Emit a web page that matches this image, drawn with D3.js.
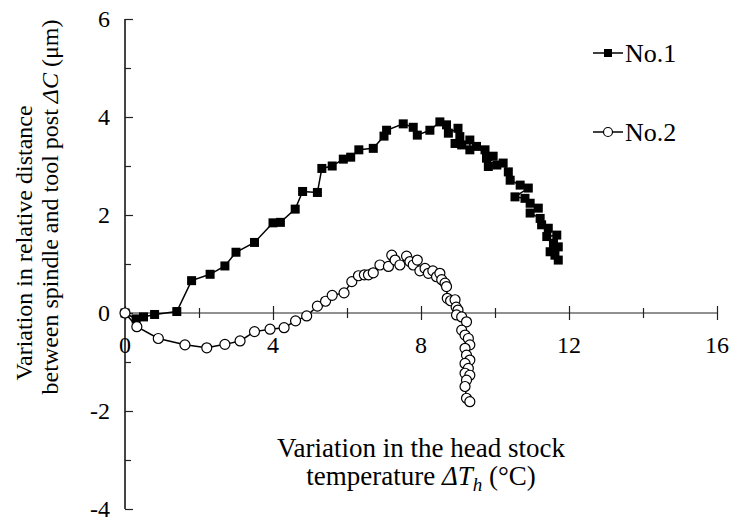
<!DOCTYPE html>
<html>
<head>
<meta charset="utf-8">
<script src="https://cdn.jsdelivr.net/npm/d3@7"></script>
<style>
	body { margin: 0; background: #fff; }
	svg text { fill: #000; }
</style>
</head>
<body>
<div id="chart"></div>
<script>
// series No.1 (filled squares)
var no1_x = [0, 0.3, 0.5, 0.8, 1.4, 1.8, 2.3, 2.7, 3.0, 3.5, 4.0, 4.2, 4.6, 4.8, 5.2, 5.32, 5.6, 5.9, 6.1, 6.32,
	6.71, 7.0, 7.07, 7.52, 7.79, 7.9, 8.24, 8.51, 8.69, 8.74, 9.0, 9.05, 8.92, 9.1, 9.32, 9.32, 9.5, 9.73, 9.77, 9.95,
	9.82, 10.05, 10.22, 10.36, 10.41, 10.68, 10.9, 10.54, 10.81, 10.95, 11.17, 10.95, 11.22, 11.26, 11.44, 11.4, 11.67,
	11.58, 11.71, 11.49, 11.62, 11.71];
var no1_y = [0, -0.12, -0.08, -0.03, 0.03, 0.66, 0.79, 0.96, 1.24, 1.44, 1.84, 1.85, 2.12, 2.48, 2.46, 2.95, 3.0, 3.14, 3.18, 3.33,
	3.36, 3.61, 3.73, 3.86, 3.79, 3.63, 3.73, 3.9, 3.84, 3.67, 3.77, 3.6, 3.46, 3.43, 3.53, 3.33, 3.4, 3.33, 3.16, 3.2,
	2.99, 3.02, 3.06, 2.88, 2.71, 2.61, 2.55, 2.37, 2.34, 2.24, 2.14, 2.04, 1.93, 1.8, 1.73, 1.56, 1.59,
	1.42, 1.35, 1.25, 1.18, 1.08];

// series No.2 (open circles)
var no2_x = [0, 0.32, 0.9, 1.62, 2.21, 2.7, 3.11, 3.5, 3.92, 4.3, 4.61, 4.91, 5.2, 5.42, 5.6, 5.92, 6.13, 6.31, 6.47, 6.58,
	6.71, 6.89, 7.12, 7.21, 7.3, 7.43, 7.61, 7.7, 7.79, 7.9, 7.97, 8.11, 8.2, 8.32, 8.42, 8.51, 8.56, 8.65, 8.69, 8.71,
	8.8, 8.92, 8.95, 9.0, 8.96, 9.1, 9.23, 9.1, 9.19, 9.28, 9.32, 9.19, 9.23, 9.32, 9.19, 9.28, 9.19, 9.32, 9.23, 9.19,
	9.23, 9.32];
var no2_y = [0, -0.28, -0.52, -0.65, -0.71, -0.64, -0.57, -0.38, -0.33, -0.3, -0.16, -0.06, 0.14, 0.24, 0.36, 0.41, 0.64, 0.76, 0.78, 0.78,
	0.82, 0.98, 0.95, 1.18, 1.08, 0.98, 1.16, 1.05, 0.98, 1.08, 0.86, 0.91, 0.81, 0.86, 0.74, 0.81, 0.68, 0.61, 0.54, 0.3,
	0.25, 0.27, 0.12, 0.06, -0.04, -0.08, -0.18, -0.35, -0.45, -0.52, -0.65, -0.72, -0.86, -0.96, -1.03, -1.13, -1.23, -1.27, -1.37, -1.5,
	-1.74, -1.81];

// ticks
var x_ticks = [0, 4, 8, 12, 16];
var x_minor = [2, 6, 10, 14];
var y_ticks = [-4, -2, 0, 2, 4, 6];
var y_minor = [-3, -1, 1, 3, 5];

var series_names = ["No.1", "No.2"];

// SETUP
var width = 734, height = 520;
var serif = "'Liberation Serif', 'Times New Roman', 'DejaVu Serif', serif";

var svg = d3.select("#chart").append("svg")
	.attr("width", width)
	.attr("height", height)
	.attr("font-family", serif)
	.style("font-family", serif);

var x = d3.scaleLinear().domain([0, 16]).range([125, 717]);
var y = d3.scaleLinear().domain([-4, 6]).range([509, 19]);

var tick_size = 24,
	title_size = 27,
	legend_size = 26;

// AXES

// y axis line with ticks pointing into the plot
var y_axis = svg.append("g").attr("transform", "translate(" + x(0) + ",0)");
y_axis.call(d3.axisRight(y).tickValues(y_ticks).tickSize(8).tickFormat(""));
y_axis.append("g").call(d3.axisRight(y).tickValues(y_minor).tickSize(6).tickFormat(""));
y_axis.selectAll(".domain").attr("d", "M0," + y(6) + "V" + y(-4));
y_axis.selectAll("path, line").attr("stroke", "#222").attr("stroke-width", 1.2);

// tick labels go on the svg itself so the axis font settings don't leak in
svg.selectAll(".ylab")
	.data(y_ticks)
	.enter().append("text")
	.attr("class", "ylab")
	.attr("x", x(0) - 15)
	.attr("y", function(d) { return y(d); })
	.attr("dy", "0.33em")
	.attr("fill", "#000")
	.style("text-anchor", "end")
	.style("font-size", tick_size + "px")
	.text(function(d) { return d; });

// x axis through zero, ticks cross the line
var x_axis = svg.append("g").attr("transform", "translate(0," + (y(0) - 7) + ")");
x_axis.call(d3.axisBottom(x).tickValues(x_ticks).tickSize(14).tickFormat(""));
x_axis.append("g").attr("transform", "translate(0,2)")
	.call(d3.axisBottom(x).tickValues(x_minor).tickSize(10).tickFormat(""));
x_axis.selectAll(".domain").remove();
x_axis.selectAll("line").attr("stroke", "#222").attr("stroke-width", 1.2);

svg.append("line")
	.attr("x1", x(0)).attr("x2", x(16))
	.attr("y1", y(0)).attr("y2", y(0))
	.attr("stroke", "#222").attr("stroke-width", 1.2);

svg.selectAll(".xlab")
	.data(x_ticks)
	.enter().append("text")
	.attr("class", "xlab")
	.attr("x", function(d) { return x(d); })
	.attr("y", y(0) + 40)
	.attr("fill", "#000")
	.style("text-anchor", "middle")
	.style("font-size", tick_size + "px")
	.text(function(d) { return d; });

// axis titles
var xt = svg.append("text")
	.attr("x", x(8))
	.attr("y", 457)
	.style("text-anchor", "middle")
	.style("font-size", title_size + "px");
xt.append("tspan").text("Variation in the head stock");
var xt2 = xt.append("tspan").attr("x", x(8)).attr("dy", 28);
xt2.append("tspan").text("temperature ");
xt2.append("tspan").style("font-style", "italic").text("ΔT");
xt2.append("tspan").style("font-style", "italic").attr("dy", 6).style("font-size", "19px").text("h");
xt2.append("tspan").attr("dy", -6).text(" (°C)");

var yt = svg.append("g").attr("transform", "translate(32,0)rotate(-90)");
yt.append("text")
	.attr("x", -243)
	.style("text-anchor", "middle")
	.style("font-size", "24px")
	.text("Variation in relative distance");
var yt2 = yt.append("text")
	.attr("x", -207)
	.attr("y", 26)
	.style("text-anchor", "middle")
	.style("font-size", "24px");
yt2.append("tspan").text("between spindle and tool post ");
yt2.append("tspan").style("font-style", "italic").text("ΔC");
yt2.append("tspan").text(" (μm)");

// DATA
var line = d3.line()
	.x(function(d) { return x(d[0]); })
	.y(function(d) { return y(d[1]); });

var no1 = d3.zip(no1_x, no1_y),
	no2 = d3.zip(no2_x, no2_y);

var data_layer = svg.append("g").classed("data", true);

var sq = 9;

data_layer.append("path")
	.datum(no1)
	.attr("fill", "none")
	.attr("stroke", "#000")
	.attr("stroke-width", 1.5)
	.attr("d", line);

data_layer.selectAll(".sq")
	.data(no1)
	.enter().append("rect")
	.attr("class", "sq")
	.attr("x", function(d) { return x(d[0]) - sq / 2; })
	.attr("y", function(d) { return y(d[1]) - sq / 2; })
	.attr("width", sq)
	.attr("height", sq)
	.attr("fill", "#000");

data_layer.append("path")
	.datum(no2)
	.attr("fill", "none")
	.attr("stroke", "#000")
	.attr("stroke-width", 1.5)
	.attr("d", line);

data_layer.selectAll(".circ")
	.data(no2)
	.enter().append("circle")
	.attr("class", "circ")
	.attr("cx", function(d) { return x(d[0]); })
	.attr("cy", function(d) { return y(d[1]); })
	.attr("r", 5)
	.attr("fill", "#fff")
	.attr("stroke", "#000")
	.attr("stroke-width", 1.2);

// LEGEND
var legend = svg.append("g").classed("legend", true);
var legend_y = [53, 132];

series_names.forEach(function(name, i) {
	var g = legend.append("g").attr("transform", "translate(593," + legend_y[i] + ")");
	g.append("line")
		.attr("x1", 0).attr("x2", 30)
		.attr("stroke", "#000").attr("stroke-width", 1.5);
	if (i === 0) {
		g.append("rect").attr("x", 11).attr("y", -4).attr("width", 8).attr("height", 8).attr("fill", "#000");
	} else {
		g.append("circle").attr("cx", 15).attr("r", 4.5).attr("fill", "#fff").attr("stroke", "#000").attr("stroke-width", 1.2);
	}
	g.append("text")
		.attr("x", 32)
		.attr("dy", "0.33em")
		.style("font-size", legend_size + "px")
		.text(name);
});
</script>
</body>
</html>
